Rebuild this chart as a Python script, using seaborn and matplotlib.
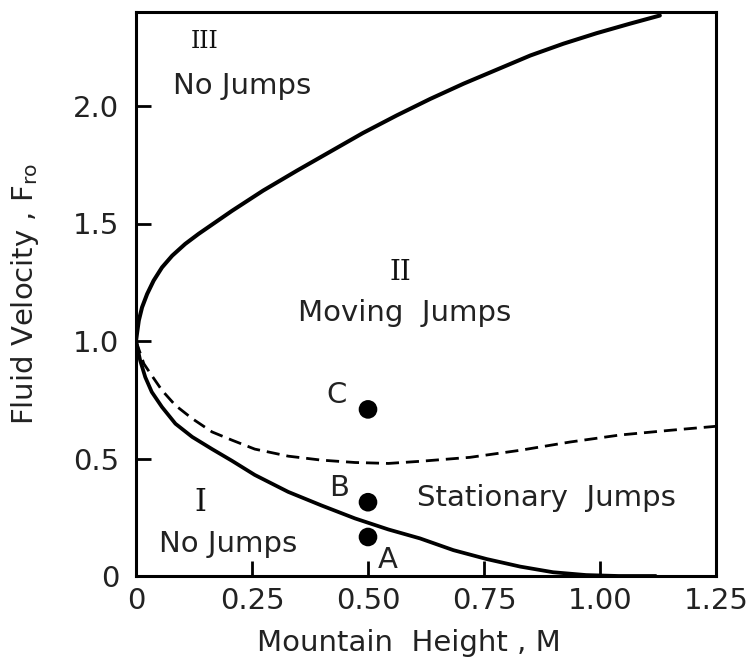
import matplotlib
matplotlib.use("Agg")
import matplotlib.pyplot as plt
import seaborn as sns
import pandas as pd

# Critical curve, upper branch (Froude number above 1)
upper_m = [0.0, 0.002, 0.006, 0.013, 0.024, 0.038, 0.056, 0.078, 0.106, 0.135,
           0.171, 0.207, 0.274, 0.347, 0.418, 0.489, 0.562, 0.634, 0.706, 0.778,
           0.850, 0.921, 0.993, 1.064, 1.129]
upper_f = [1.0, 1.03, 1.087, 1.143, 1.20, 1.257, 1.313, 1.363, 1.413, 1.456,
           1.505, 1.554, 1.64, 1.725, 1.805, 1.885, 1.96, 2.03, 2.095, 2.155,
           2.215, 2.265, 2.31, 2.35, 2.385]

# Critical curve, lower branch (Froude number below 1)
lower_m = [0.0, 0.009, 0.020, 0.034, 0.056, 0.085, 0.121, 0.164, 0.207, 0.256,
           0.328, 0.400, 0.472, 0.544, 0.612, 0.684, 0.756, 0.828, 0.899, 0.970,
           1.040, 1.120]
lower_f = [1.0, 0.917, 0.846, 0.783, 0.719, 0.648, 0.592, 0.54, 0.49, 0.43,
           0.358, 0.30, 0.245, 0.198, 0.16, 0.11, 0.072, 0.04, 0.016, 0.004,
           0.0, 0.0]

# Boundary between stationary and moving jumps
dash_m = [0.0, 0.017, 0.034, 0.056, 0.085, 0.121, 0.164, 0.207, 0.256, 0.328,
          0.400, 0.472, 0.544, 0.612, 0.720, 0.828, 0.935, 1.043, 1.151, 1.25]
dash_f = [1.0, 0.903, 0.853, 0.79, 0.726, 0.67, 0.613, 0.578, 0.54, 0.51,
          0.493, 0.483, 0.479, 0.488, 0.505, 0.535, 0.57, 0.60, 0.62, 0.637]

# Experimental cases
case_names = ["A", "B", "C"]
case_m = [0.5, 0.5, 0.5]
case_f = [0.166, 0.314, 0.709]

x_ticks = [0, 0.25, 0.50, 0.75, 1.00, 1.25]
x_tick_labels = ["0", "0.25", "0.50", "0.75", "1.00", "1.25"]
y_ticks = [0, 0.5, 1.0, 1.5, 2.0]
y_tick_labels = ["0", "0.5", "1.0", "1.5", "2.0"]

sns.set_style("ticks")
plt.rcParams["font.family"] = ["DejaVu Sans"]
plt.rcParams["mathtext.default"] = "regular"

fig = plt.figure(figsize=(7.48, 6.65), dpi=100)
ax = fig.add_axes([136 / 748, 1 - 576 / 665, 580 / 748, 564 / 665])

upper = pd.DataFrame({"M": upper_m, "F": upper_f})
lower = pd.DataFrame({"M": lower_m, "F": lower_f})
dashed = pd.DataFrame({"M": dash_m, "F": dash_f})
cases = pd.DataFrame({"M": case_m, "F": case_f, "case": case_names})

sns.lineplot(data=upper, x="M", y="F", sort=False, color="black", lw=2.9, ax=ax,
             solid_capstyle="round", solid_joinstyle="round")
sns.lineplot(data=lower, x="M", y="F", sort=False, color="black", lw=2.7, ax=ax,
             solid_capstyle="round", solid_joinstyle="round")
sns.lineplot(data=dashed, x="M", y="F", sort=False, color="black", lw=2.0, ax=ax)
ax.lines[-1].set_dashes((4.7, 2.5))
sns.scatterplot(data=cases, x="M", y="F", color="black", s=180, edgecolor="none",
                ax=ax, zorder=5)

ax.set_xlim(0, 1.25)
ax.set_ylim(0, 2.4)
ax.set_xticks(x_ticks)
ax.set_xticklabels(x_tick_labels)
ax.set_yticks(y_ticks)
ax.set_yticklabels(y_tick_labels)
ax.tick_params(direction="in", length=11, width=2, labelsize=21, color="black",
               labelcolor="#222222")
ax.tick_params(axis="x", pad=8)
ax.tick_params(axis="y", pad=12)
for s in ax.spines.values():
    s.set_visible(True)
    s.set_linewidth(2.2)
    s.set_color("black")

ax.set_xlabel("Mountain  Height , M", fontsize=21, color="#222222")
ax.set_ylabel("Fluid Velocity , F$_{ro}$", fontsize=21, color="#222222")
ax.xaxis.set_label_coords(0.47, -0.094)
ax.yaxis.set_label_coords(-0.163, 0.5)

txt = dict(color="#222222", fontsize=21)
rom = dict(color="#111111", family="DejaVu Serif", ha="center", va="center")
ax.text(0.147, 2.276, "III", fontsize=17, **rom)
ax.text(0.229, 2.05, "No Jumps", ha="center", va="baseline", **txt)
ax.text(0.570, 1.292, "II", fontsize=20, **rom)
ax.text(0.578, 1.087, "Moving  Jumps", ha="center", va="baseline", **txt)
ax.text(0.138, 0.314, "I", fontsize=22, **rom)
ax.text(0.198, 0.102, "No Jumps", ha="center", va="baseline", **txt)
ax.text(0.884, 0.297, "Stationary  Jumps", ha="center", va="baseline", **txt)

label_pos = {"A": (0.543, 0.068), "B": (0.437, 0.374), "C": (0.433, 0.769)}
for name in case_names:
    lx, ly = label_pos[name]
    ax.text(lx, ly, name, ha="center", va="center", **txt)

fig.savefig("out.png", dpi=100)
